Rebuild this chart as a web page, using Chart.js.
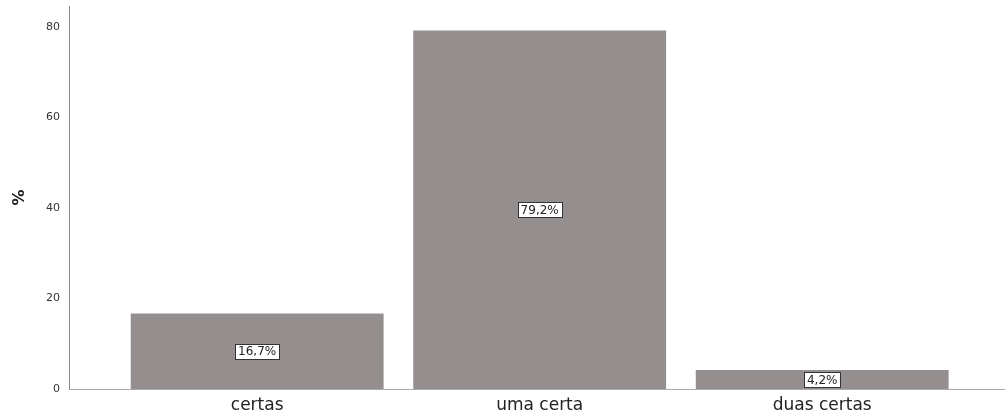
<!DOCTYPE html>
<html>
<head>
<meta charset="utf-8">
<script src="https://cdn.jsdelivr.net/npm/chart.js@4"></script>
<style>
  html, body { margin: 0; padding: 0; background: #fff; }
  #wrap { width: 1005px; height: 414px; }
</style>
</head>
<body>
<div id="wrap"><canvas id="grafico"></canvas></div>
<script>
const categorias = ['certas', 'uma certa', 'duas certas'];
const percentuais = [16.7, 79.2, 4.2];
const rotulos = ['16,7%', '79,2%', '4,2%'];
const ticksY = [0, 20, 40, 60, 80];

// caixinhas brancas com o valor no meio de cada barra
const rotuloBarra = {
  id: 'rotuloBarra',
  afterDatasetsDraw(chart) {
    const ctx = chart.ctx;
    const meta = chart.getDatasetMeta(0);
    ctx.save();
    ctx.font = '12px "DejaVu Sans"';
    ctx.textAlign = 'center';
    ctx.textBaseline = 'middle';
    meta.data.forEach((bar, i) => {
      const txt = rotulos[i];
      const cy = (bar.y + bar.base) / 2;
      const w = Math.round(ctx.measureText(txt).width + 6);
      const h = 15;
      const x0 = Math.round(bar.x - w / 2) + 0.5;
      const y0 = Math.round(cy - h / 2) + 0.5;
      ctx.fillStyle = '#fff';
      ctx.fillRect(x0, y0, w, h);
      ctx.strokeStyle = '#333';
      ctx.lineWidth = 1;
      ctx.strokeRect(x0, y0, w, h);
      ctx.fillStyle = '#222';
      ctx.fillText(txt, bar.x, cy + 1);
    });
    ctx.restore();
  }
};

const dados = percentuais.map((v, i) => ({ x: i, y: v }));

new Chart(document.getElementById('grafico'), {
  type: 'bar',
  data: {
    datasets: [{
      data: dados,
      backgroundColor: '#948f8e',
      borderWidth: 0,
      barPercentage: 0.895,
      categoryPercentage: 1
    }]
  },
  options: {
    responsive: true,
    maintainAspectRatio: false,
    animation: false,
    layout: { padding: { top: 6, left: 0, right: 0, bottom: 0 } },
    plugins: {
      legend: { display: false },
      tooltip: { enabled: false }
    },
    scales: {
      x: {
        type: 'linear',
        offset: false,
        min: -0.666,
        max: 2.647,
        afterBuildTicks: (scale) => { scale.ticks = categorias.map((c, i) => ({ value: i })); },
        afterFit: (scale) => { scale.height = 25; scale.paddingLeft = 0; scale.paddingRight = 0; },
        grid: { display: false, drawTicks: false },
        border: { display: true, color: '#aaa', width: 1 },
        ticks: {
          callback: (v) => categorias[v] ?? '',
          font: { family: 'DejaVu Sans', size: 17 },
          color: '#222',
          padding: 6,
          maxRotation: 0,
          autoSkip: false
        }
      },
      y: {
        min: 0,
        max: 84.6,
        afterBuildTicks: (scale) => { scale.ticks = ticksY.map(v => ({ value: v })); },
        afterFit: (scale) => { scale.width = 69; scale.paddingTop = 0; scale.paddingBottom = 0; },
        grid: { display: false, drawTicks: false },
        border: { display: true, color: '#888', width: 1 },
        title: {
          display: true,
          text: '%',
          font: { family: 'DejaVu Sans', size: 16, weight: 'bold' },
          color: '#222',
          padding: { top: 10, bottom: 0 }
        },
        ticks: {
          font: { family: 'DejaVu Sans', size: 11 },
          color: '#333',
          padding: 9
        }
      }
    }
  },
  plugins: [rotuloBarra]
});
</script>
</body>
</html>
